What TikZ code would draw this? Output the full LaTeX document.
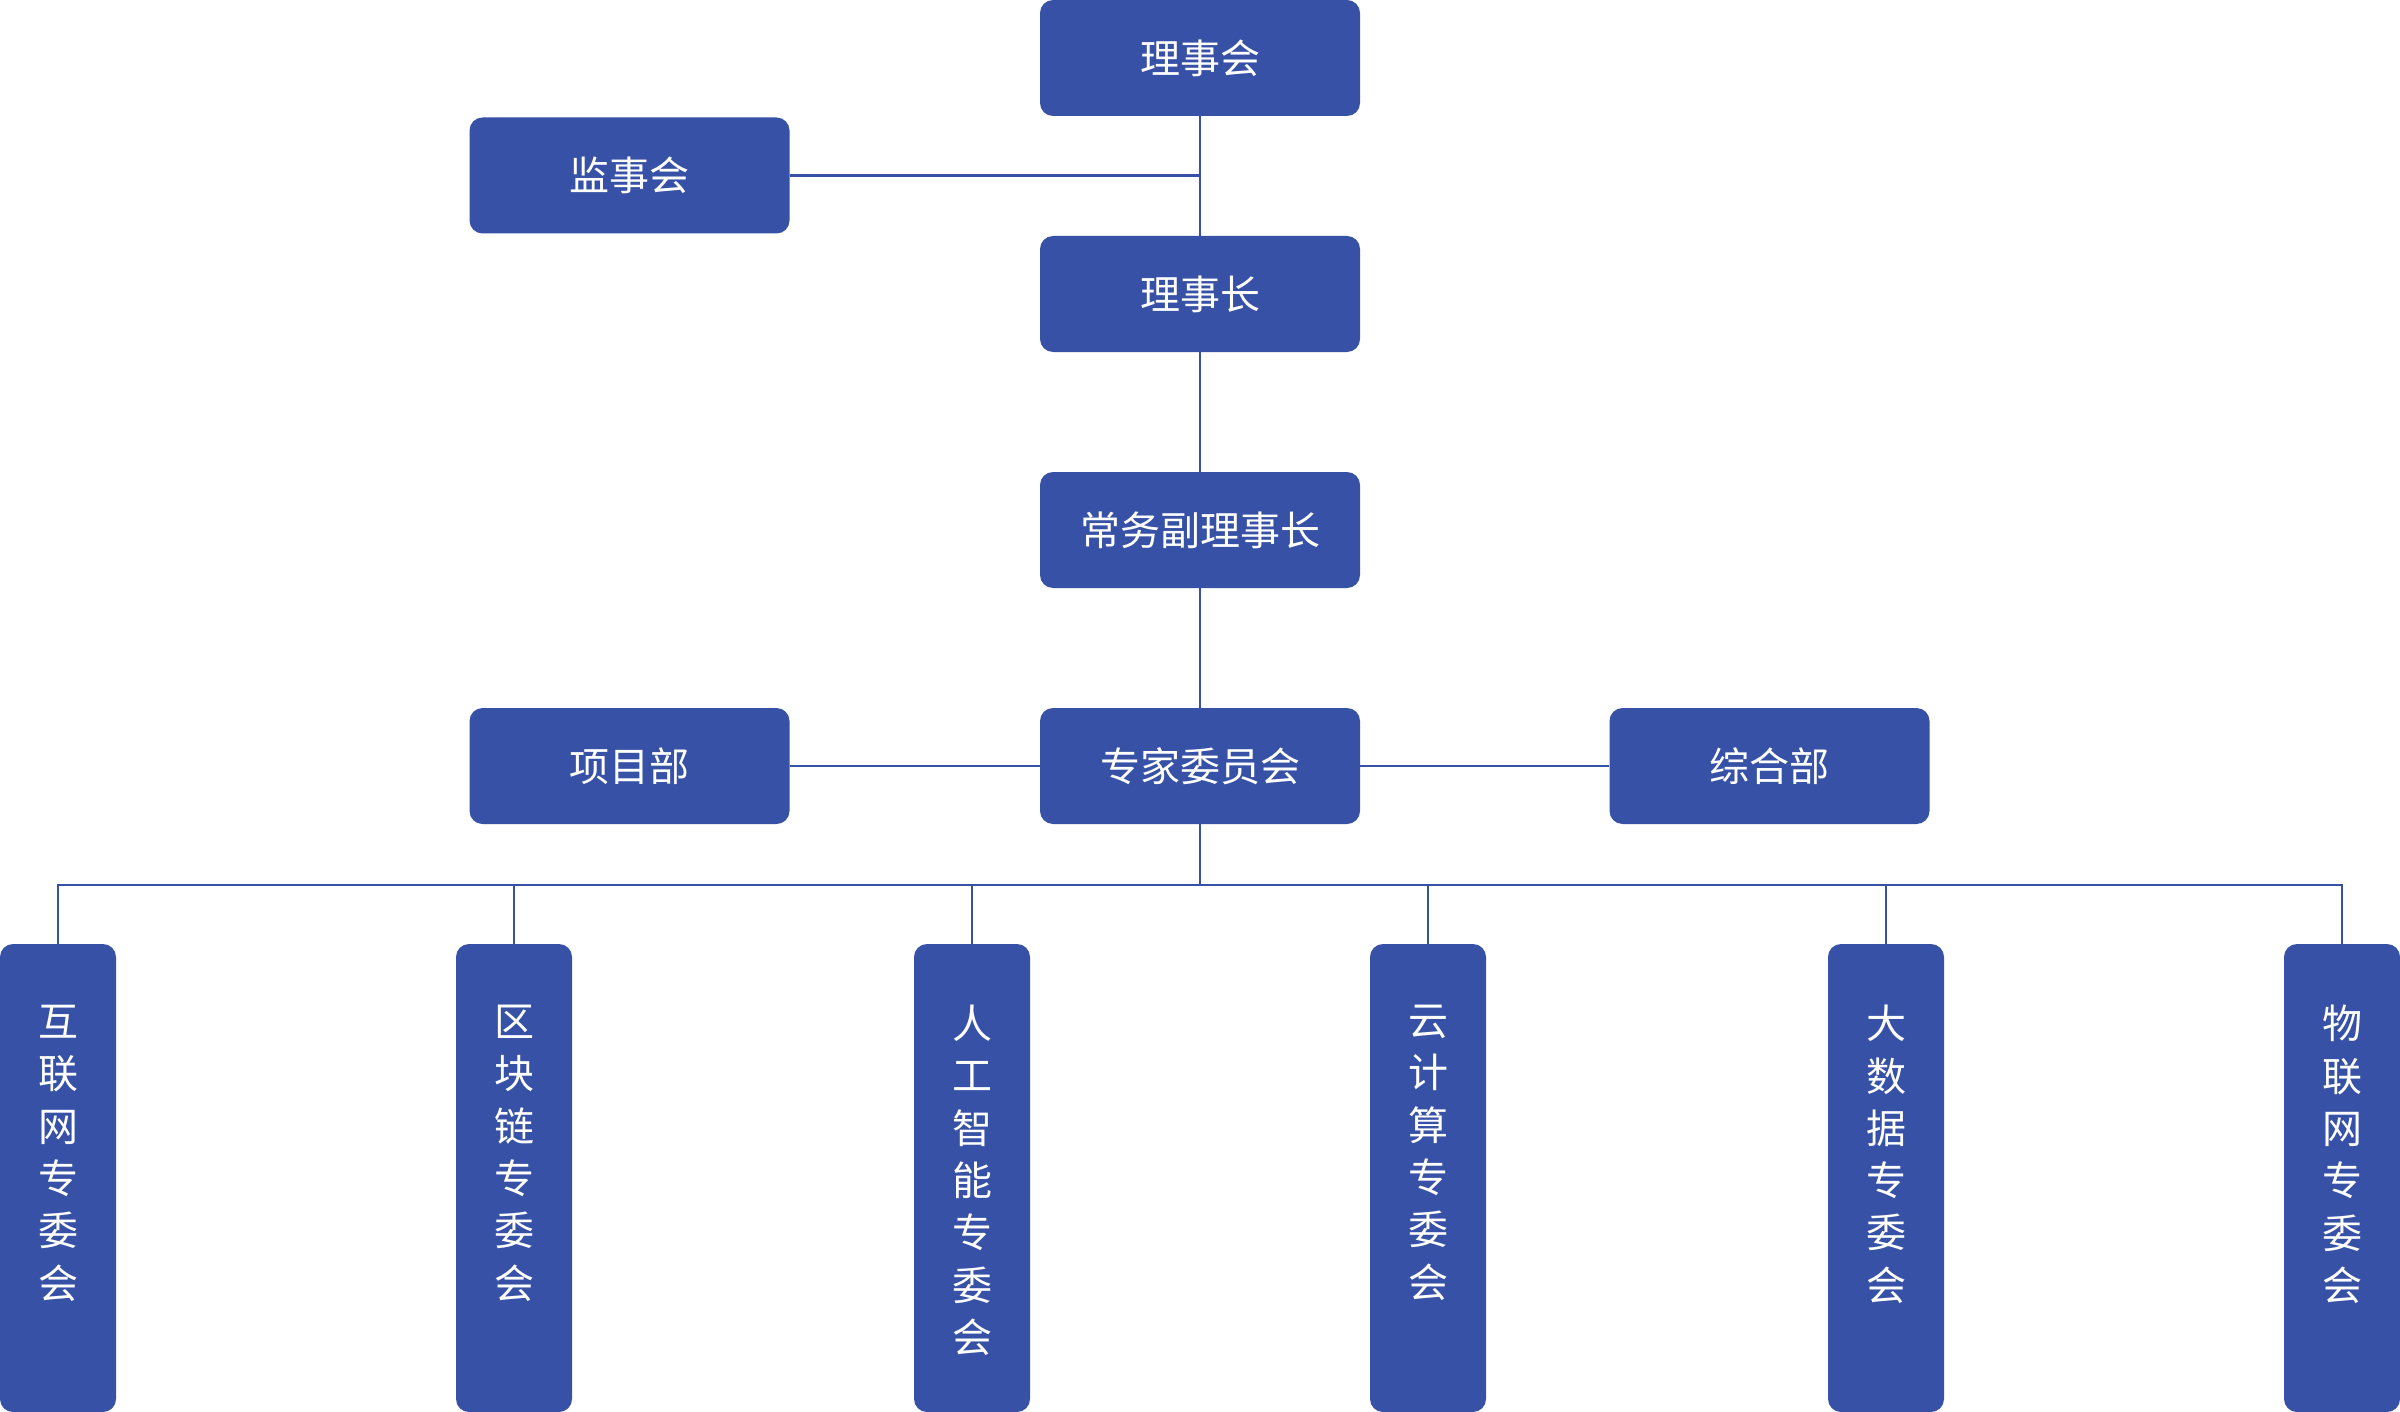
\documentclass[tikz,border=0pt]{standalone}
\usepackage{fontspec}
\setmainfont{Noto Sans CJK SC}
\definecolor{boxblue}{RGB}{54,81,165}
\begin{document}
\begin{tikzpicture}[x=1pt,y=-1pt,
  box/.style={fill=boxblue, rounded corners=13pt, minimum width=320pt, minimum height=116pt, inner sep=0pt, text=white, font=\fontsize{40}{48}\selectfont},
  vbox/.style={fill=boxblue, rounded corners=13pt, minimum width=116pt, minimum height=468pt, inner sep=0pt},
  vtext/.style={anchor=north, inner sep=0pt, text=white, align=center, font=\fontsize{40}{52.3}\selectfont},
  link/.style={draw=boxblue, line width=2.2pt}]
\useasboundingbox (0,0) rectangle (2400,1412);
% top part
\node[box] (lsh) at (1200,58) {理事会};
\node[box] (jsh) at (629.5,175.5) {监事会};
\node[box] (lsz) at (1200,294) {理事长};
\node[box] (cw) at (1200,530) {常务副理事长};
\node[box] (zj) at (1200,766) {专家委员会};
\node[box] (xm) at (629.5,766) {项目部};
\node[box] (zh) at (1769.5,766) {综合部};
% bottom boxes
\node[vbox] (b1) at (58,1178) {};
\node[vbox] (b2) at (514,1178) {};
\node[vbox] (b3) at (972,1178) {};
\node[vbox] (b4) at (1428,1178) {};
\node[vbox] (b5) at (1886,1178) {};
\node[vbox] (b6) at (2342,1178) {};
\node[vtext] (t1) at (58,1005) {互\\联\\网\\专\\委\\会};
\node[vtext] (t2) at (514,1005) {区\\块\\链\\专\\委\\会};
\node[vtext] (t3) at (972,1005) {人\\工\\智\\能\\专\\委\\会};
\node[vtext] (t4) at (1428,1005) {云\\计\\算\\专\\委\\会};
\node[vtext] (t5) at (1886,1005) {大\\数\\据\\专\\委\\会};
\node[vtext] (t6) at (2342,1005) {物\\联\\网\\专\\委\\会};
% connectors
\draw[link] (lsh.south) -- (lsz.north);
\draw[link] (jsh.east) -- (jsh.east -| lsh.south);
\draw[link] (lsz.south) -- (cw.north);
\draw[link] (cw.south) -- (zj.north);
\draw[link] (xm.east) -- (zj.west);
\draw[link] (zj.east) -- (zh.west);
\coordinate (bus) at (1200,885);
\draw[link] (zj.south) -- (bus);
\draw[link] (b1.north) -- (b1.north |- bus) -- (b6.north |- bus) -- (b6.north);
\draw[link] (b2.north) -- (b2.north |- bus);
\draw[link] (b3.north) -- (b3.north |- bus);
\draw[link] (b4.north) -- (b4.north |- bus);
\draw[link] (b5.north) -- (b5.north |- bus);
\end{tikzpicture}
\end{document}
